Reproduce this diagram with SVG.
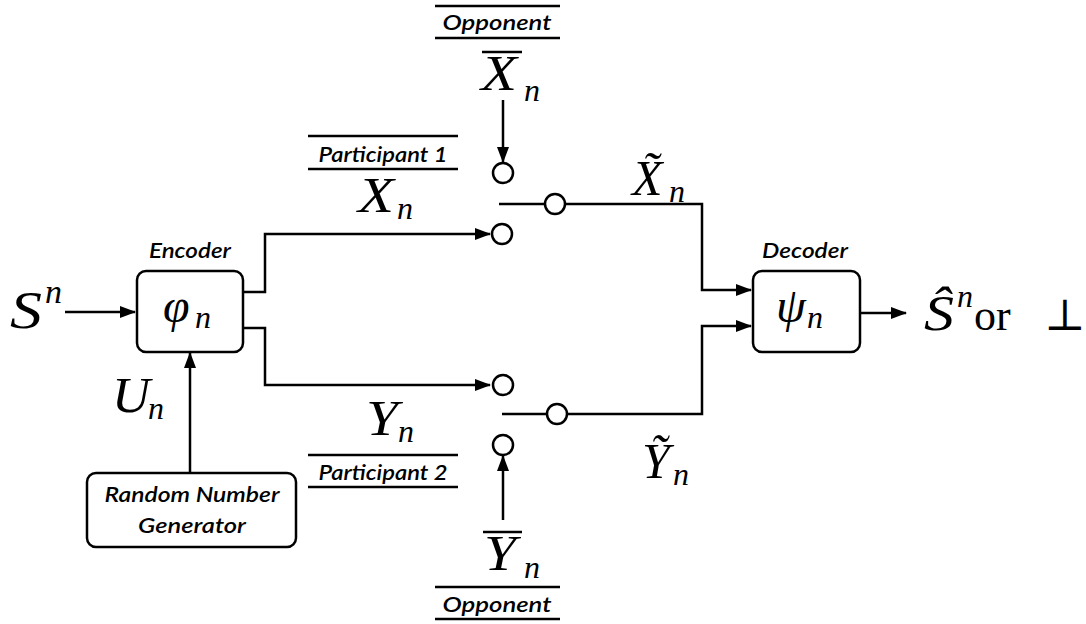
<svg xmlns="http://www.w3.org/2000/svg" width="1086" height="624" viewBox="0 0 1086 624">
<defs>
<marker id="ah" markerWidth="16" markerHeight="12" refX="15" refY="6" orient="auto" markerUnits="userSpaceOnUse">
<path d="M0,0 L16,6 L0,12 Z" fill="#000"/>
</marker>
<style>
.ln{fill:none;stroke:#000;stroke-width:2.5}
.box{fill:#fff;stroke:#000;stroke-width:2.5}
.sw{fill:#fff;stroke:#000;stroke-width:2.5}
.lbl{font-family:Lato,"Liberation Sans",sans-serif;font-style:italic;font-weight:600;font-size:21px;fill:#000}
.m{font-family:"Liberation Serif","DejaVu Serif",serif;font-style:italic;fill:#000}
.r{font-family:"Liberation Serif","DejaVu Serif",serif;fill:#000}
.bar{stroke:#000;stroke-width:2.5}
</style>
</defs>
<rect width="1086" height="624" fill="#fff"/>

<g id="connectors">
<line class="ln" x1="65" y1="312" x2="135" y2="312" marker-end="url(#ah)"/>
<polyline class="ln" points="243,292 265,292 265,234 490,234" marker-end="url(#ah)"/>
<polyline class="ln" points="243,328 265,328 265,385 490,385" marker-end="url(#ah)"/>
<line class="ln" x1="190" y1="473" x2="190" y2="353" marker-end="url(#ah)"/>
<line class="ln" x1="503" y1="100" x2="503" y2="162" marker-end="url(#ah)"/>
<line class="ln" x1="503" y1="520" x2="503" y2="456" marker-end="url(#ah)"/>
<polyline class="ln" points="499,204 702,204 702,290 751,290" marker-end="url(#ah)"/>
<polyline class="ln" points="502,414 702,414 702,326 751,326" marker-end="url(#ah)"/>
<line class="ln" x1="860" y1="313" x2="906" y2="313" marker-end="url(#ah)"/>
</g>

<g id="switch-top">
<circle class="sw" cx="503" cy="173" r="10"/>
<circle class="sw" cx="502" cy="234" r="10"/>
<circle class="sw" cx="555" cy="204" r="10"/>
</g>
<g id="switch-bottom">
<circle class="sw" cx="503" cy="385" r="10"/>
<circle class="sw" cx="503" cy="445" r="10"/>
<circle class="sw" cx="557" cy="414" r="10"/>
</g>

<g id="encoder">
<rect class="box" x="137" y="271" width="106" height="81" rx="9"/>
<text class="lbl" x="190" y="258" text-anchor="middle" textLength="82" lengthAdjust="spacingAndGlyphs">Encoder</text>
<text class="m" x="163" y="322" font-size="48">φ</text>
<text class="m" x="195" y="328" font-size="32">n</text>
</g>

<g id="decoder">
<rect class="box" x="753" y="271" width="107" height="81" rx="9"/>
<text class="lbl" x="805" y="258" text-anchor="middle" textLength="86" lengthAdjust="spacingAndGlyphs">Decoder</text>
<text class="m" x="776" y="322" font-size="48">ψ</text>
<text class="m" x="807" y="328" font-size="32">n</text>
</g>

<g id="rng">
<rect class="box" x="87" y="473" width="209" height="74" rx="9"/>
<text class="lbl" x="192" y="502" text-anchor="middle" textLength="175" lengthAdjust="spacingAndGlyphs">Random Number</text>
<text class="lbl" x="192" y="533" text-anchor="middle" textLength="108" lengthAdjust="spacingAndGlyphs">Generator</text>
</g>

<g id="input-S">
<text class="m" x="10" y="328" font-size="52" textLength="32" lengthAdjust="spacingAndGlyphs">S</text>
<text class="m" x="45" y="303" font-size="34">n</text>
</g>

<g id="output">
<text class="m" x="924" y="330" font-size="50" textLength="30" lengthAdjust="spacingAndGlyphs">Ŝ</text>
<text class="m" x="957" y="307" font-size="32">n</text>
<text class="r" x="974" y="330" font-size="44">or</text>
<text class="r" x="1044" y="330" font-size="44">⊥</text>
</g>

<g id="participant1">
<line class="bar" x1="308" y1="136" x2="458" y2="136"/>
<text class="lbl" x="383" y="162" text-anchor="middle" textLength="129" lengthAdjust="spacingAndGlyphs">Participant 1</text>
<line class="bar" x1="308" y1="169" x2="458" y2="169"/>
<text class="m" x="358" y="212" font-size="50" textLength="36" lengthAdjust="spacingAndGlyphs">X</text>
<text class="m" x="397" y="219" font-size="32">n</text>
</g>

<g id="participant2">
<text class="m" x="366" y="435" font-size="50" textLength="32" lengthAdjust="spacingAndGlyphs">Y</text>
<text class="m" x="398" y="442" font-size="32">n</text>
<line class="bar" x1="308" y1="455" x2="458" y2="455"/>
<text class="lbl" x="383" y="480" text-anchor="middle" textLength="129" lengthAdjust="spacingAndGlyphs">Participant 2</text>
<line class="bar" x1="308" y1="487" x2="458" y2="487"/>
</g>

<g id="opponent-top">
<line class="bar" x1="435" y1="6" x2="560" y2="6"/>
<text class="lbl" x="497" y="30" text-anchor="middle" textLength="109" lengthAdjust="spacingAndGlyphs">Opponent</text>
<line class="bar" x1="435" y1="38" x2="560" y2="38"/>
<line class="bar" x1="482" y1="52" x2="522" y2="52"/>
<text class="m" x="481" y="90" font-size="50" textLength="36" lengthAdjust="spacingAndGlyphs">X</text>
<text class="m" x="524" y="101" font-size="32">n</text>
</g>

<g id="opponent-bottom">
<line class="bar" x1="483" y1="532" x2="522" y2="532"/>
<text class="m" x="484" y="570" font-size="50" textLength="32" lengthAdjust="spacingAndGlyphs">Y</text>
<text class="m" x="524" y="578" font-size="32">n</text>
<line class="bar" x1="435" y1="587" x2="560" y2="587"/>
<text class="lbl" x="497" y="612" text-anchor="middle" textLength="109" lengthAdjust="spacingAndGlyphs">Opponent</text>
<line class="bar" x1="435" y1="619" x2="560" y2="619"/>
</g>

<g id="label-Xtilde">
<text class="m" x="632" y="195" font-size="50">X̃</text>
<text class="m" x="669" y="202" font-size="32">n</text>
</g>

<g id="label-Ytilde">
<text class="m" x="642" y="478" font-size="50">Ỹ</text>
<text class="m" x="673" y="485" font-size="32">n</text>
</g>

<g id="label-U">
<text class="m" x="112" y="412" font-size="50" textLength="38" lengthAdjust="spacingAndGlyphs">U</text>
<text class="m" x="148" y="419" font-size="32">n</text>
</g>
</svg>
